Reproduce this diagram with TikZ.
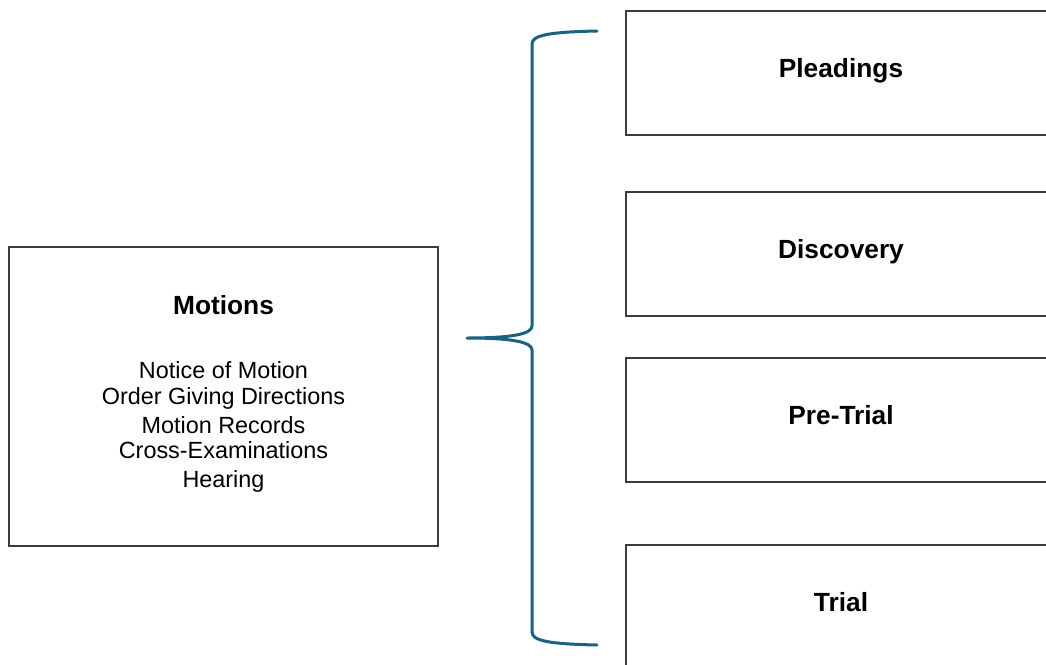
\documentclass[tikz,border=0pt]{standalone}
\usepackage{fontspec}
\setmainfont{Liberation Sans}
\definecolor{bracecol}{RGB}{28,96,130}
\definecolor{boxline}{RGB}{60,60,60}
\begin{document}
\begin{tikzpicture}[x=1pt,y=-1pt,
  stagebox/.style={draw=boxline,line width=1.1pt,fill=white,minimum width=430pt,minimum height=124pt,inner sep=0pt},
  mainbox/.style={draw=boxline,line width=1.1pt,fill=white,minimum width=429pt,minimum height=299pt,inner sep=0pt},
  titletext/.style={anchor=base,inner sep=0pt,font=\fontsize{26.3pt}{29pt}\selectfont\bfseries},
  itemtext/.style={anchor=base,inner sep=0pt,font=\fontsize{23.4pt}{26pt}\selectfont},
  bracepath/.style={draw=bracecol,line width=3pt,line cap=round,line join=round}]
\useasboundingbox (0,0) rectangle (1046,664);
\clip (0,0) rectangle (1046,664);
\fill[white] (0,0) rectangle (1046,664);
% left box
\node[mainbox] (motions) at (223.5,396.5) {};
\node[titletext] (motionstitle) at (223.5,314) {Motions};
\node[itemtext] (i1) at (223.5,378.5) {Notice of Motion};
\node[itemtext] (i2) at (223.5,404.5) {Order Giving Directions};
\node[itemtext] (i3) at (223.5,433) {Motion Records};
\node[itemtext] (i4) at (223.5,458) {Cross-Examinations};
\node[itemtext] (i5) at (223.5,487) {Hearing};
% right boxes
\node[stagebox] (pleadings) at (841,73) {};
\node[titletext] (pleadingst) at (841,77) {Pleadings};
\node[stagebox] (discovery) at (841,254) {};
\node[titletext] (discoveryt) at (841,258) {Discovery};
\node[stagebox] (pretrial) at (841,420) {};
\node[titletext] (pretrialt) at (841,424) {Pre-Trial};
\node[stagebox] (trial) at (841,607) {};
\node[titletext] (trialt) at (841,611) {Trial};
% brace
\coordinate (btop) at (597,31);
\coordinate (btip) at (467,338);
\coordinate (bbot) at (597,645);
\draw[bracepath] (btop) .. controls (550,32) and (532,35) .. (532,44)
  -- (532,326) .. controls (532,334) and (512,338) .. (btip)
  .. controls (512,338) and (532,342) .. (532,350)
  -- (532,632) .. controls (532,641) and (550,644) .. (bbot);
\end{tikzpicture}
\end{document}
